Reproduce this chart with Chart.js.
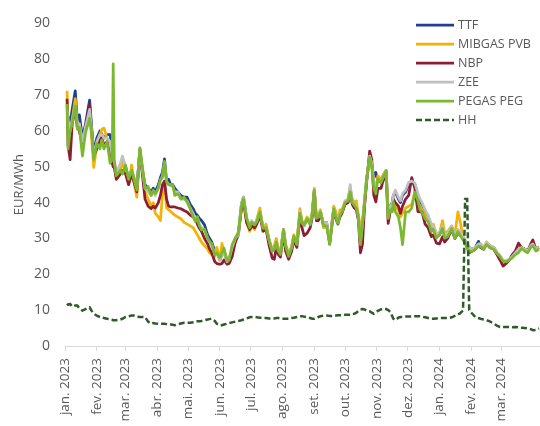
<!DOCTYPE html>
<html>
<head>
<meta charset="utf-8">
<script src="https://cdn.jsdelivr.net/npm/chart.js@4/dist/chart.umd.min.js"></script>
<style>
  html, body { margin: 0; padding: 0; background: #ffffff; }
  #c { display: block; }
</style>
</head>
<body>
<canvas id="c" width="540" height="426"></canvas>
<script>
// Daily gas hub prices (EUR/MWh), sampled on trading days.
// Day offsets are counted from 1 January 2023.
const dayOffsets = [
  2,3,5,7,10,12,14,17,20,24,
  26,28,31,34,36,38,41,44,46,47,
  48,50,54,56,59,62,65,67,70,73,
  75,78,81,84,86,88,91,93,95,97,
  99,101,103,105,107,110,113,116,119,122,
  125,127,129,131,133,136,139,141,143,146,
  148,151,153,155,158,160,163,166,169,172,
  174,177,180,182,185,187,190,193,196,199,
  202,204,206,208,210,213,215,218,221,223,
  226,229,231,233,236,239,241,243,245,247,
  249,252,255,258,262,264,266,268,270,273,
  276,278,280,282,284,286,288,290,292,294,
  297,299,301,303,305,308,310,313,315,317,
  319,320,322,325,327,329,332,335,338,341,
  344,346,348,351,354,357,359,362,365,368,
  370,373,377,380,383,385,388,390,392,394,
  397,400,403,405,408,411,414,418,421,424,
  427,430,433,436,439,442,445,448,451,454,
  456,459,462
];

const ttf = [
  65,64,62,66,71.2,63,64.5,58,62,68.6,
  61,54,58,60,59,58,59,59,54,52,
  51,48,50,52,50,47,49,47,44,55,
  50,45,44,43,44,43,45,47,48.5,52.2,
  46,46.5,45,45,44,43,42,41.5,41.5,39.5,
  38.3,37,36.5,35.6,35,33.8,31,30,29,26.5,
  26,24,25.5,26,24,24,27,30,31.5,39.5,
  41.5,35.5,33,34.5,34,35,37.5,33,33,29.5,
  26.5,27,29,26.5,26,32.5,28,25.5,27.5,30.5,
  28.5,37.5,34.5,33.5,35.5,34,37,43.5,35.5,36,
  37.5,34,34,29,38.5,36,34.5,37,37.5,40,
  40.5,44,40,39.5,39,36,29,34,40,46.5,
  53,51,47,48.4,46,46,47.5,49,37,39,
  40,42,43,41,40,42,43,45,46,45,
  42,40.5,39.5,37.5,36,33.5,33,31,31,33,
  31,31.5,33,30.5,32,31.5,30,29,28,27.5,
  27,27.5,29.2,28,27.5,28.5,28,27.5,26,25,
  23.5,23.5,24,25,26,27,27.5,27,26.5,28,
  28.5,27,27.5
];

const mibgasPvb = [
  71.2,62,60,63,69,62,62,55,61,65,
  58,49.8,56,59,60.5,60.8,58,55,53,52,
  50,47,49,51,49,45,50.5,46,41.5,54,
  50.5,43,41,39,40,37,36,35,42,46,
  38.5,38,37.5,37,36.5,36,35.5,34.5,34,33.5,
  33,32,31,30,29,28,27,26,25.5,25,
  27.5,24,28.6,26,23.5,25,26,29,32,38,
  40,34.5,32,33.5,32.5,35.5,38.5,32.5,34,29.5,
  27,28,30,27,26,32.5,28.5,25.5,28,31,
  29,38.3,35,34,36,34.5,37.5,44,35.5,36.5,
  38,33,33.5,29,39,37.5,35,38,38,40.5,
  41,44,41,40,40.5,36.5,33,34.5,41,46.5,
  53,51,45,44,47.5,46.5,47.5,49,37,39,
  39,40.5,39,38,36,37,38.5,39,39.5,43,
  40,39,38,36.5,35,33,34,31,31.5,35,
  31.5,32,33.5,31,37.4,35,30.5,29.5,28,27,
  27,27.5,28,28.5,27.5,29,28,27.5,26,25,
  23.5,23.5,24,25,26,27,27.5,27,26.5,28,
  28.5,27,27.5
];

const nbp = [
  69,56,52,62,66,61,60,56,61,67.2,
  60,53,55,58,58,56,57,53,51,50,
  50,46.5,48,49,48,45,48,46,43,54.5,
  49,41,39,38.3,39,38.5,40,42,45,46,
  41,39,38.8,38.8,38.8,38.5,38.3,37.8,37.4,36.5,
  36,35.6,34,32.8,32,30,28.5,27,26,23.5,
  23,22.8,23,24,22.8,23,25,29,31,38.5,
  40.5,34.5,32.5,33.5,33,34,36.5,32,32.5,28,
  24.5,24.2,27.5,25.5,24.8,31.5,26.5,24.2,26.5,29.5,
  27.5,36.5,33,30.8,31.5,33,36,43,35,35,
  37,34,34.5,28.5,38,35.5,34,36,37,39.5,
  40,43.5,39.5,38.5,38,35,26,28.5,39,45.5,
  54.4,52,42,40.2,44,44,46,48,34.2,37.5,
  38.5,41,40,39,37,39,41,42,47,44,
  37.5,37.4,37.4,34,33,30.5,31,28.7,28.5,30.5,
  29,30,32.5,30,31.5,31,30,29,27.5,26,
  26.5,27,28,27.5,27,28.5,27.5,27,25.5,24,
  22.3,23,24,25.5,26.5,28.7,27.5,27,26.5,28.5,
  29.6,27,27.5
];

const zee = [
  66,63,60,63,67,62,62,57,61,66,
  60,53,57,59,59,58,58,57,53,52,
  51.5,48,51,53,50,47,49,47,44,55,
  50,44,43,42,43,42,44,46,47.5,51,
  46,45,45,44.5,43,43,41,41,40.5,38.5,
  37,35,36,34,33,32.5,30,29,28.5,25.5,
  26,24.2,25.5,26,23.5,24.5,27.5,30,31,40,
  41.6,36,33.5,35,34,35,37.5,33,33,29.5,
  26.5,27,29,26.5,26,32.5,28,25.5,27.5,30.5,
  28.5,37.5,34.5,33.5,35.5,34,37,43.5,36,36,
  37.5,34,34.5,29,38.5,36.5,34.5,37,37.5,40.5,
  41,45,40.5,39.5,39,36,29,34,40.5,46.5,
  53,51,46,45,46,46,47,49,36.5,38.5,
  40,42,43.5,41.5,40.5,42.5,43.5,45.7,46,45.5,
  42.5,41,40,38,36.5,34,33.5,31.5,31.5,33.5,
  31,31.5,33.5,31,32.5,32,30.5,29.5,28.5,27.5,
  27,27.5,28.5,28.5,27.5,29,28,27.5,26.2,25.2,
  23.8,23.8,24.2,25,26,27,27.5,27,26.5,28,
  28.5,27,27.5
];

const pegasPeg = [
  67.5,55,60,62,67,60.5,61,53,59.5,63.5,
  59.5,52,56.5,55,57.5,55,57,51,52,78.7,
  52,47.5,49,48,50.5,46.5,49,47,43.5,55.3,
  51,44,44.5,42,43.5,42.5,44,46.5,47,51.5,
  45.7,45,44.8,45,42,42.5,41,41.5,40.2,38.3,
  36,34.7,36,33.5,32.4,32.5,30,29.2,28.3,25.5,
  26,24.6,26,27.3,23.7,24,28.3,30.1,31.5,39.3,
  41.1,35.6,33,34.5,33.8,34.7,37.4,32.8,33,29.5,
  26.5,27,29,26.5,25.5,32.4,28,25,27.5,30.6,
  28.3,37,34.5,33.8,35.5,33.8,37,43.4,35.6,36,
  37.4,33.5,33.5,28.3,38.3,36,34.2,36.5,37.4,40,
  40.5,43,40,39.3,38.5,36,28.3,34,40.5,46.6,
  52.6,50,44,42.5,46.6,45.5,47,48.9,35.6,38,
  37.5,40.2,37.5,36,33,28.3,37.4,37.4,38.5,42.9,
  40.5,38,37.4,35.5,34.7,31.9,32.5,30.1,31,32.8,
  30.1,30.5,32.8,30,31.9,31,29.5,28.7,27.5,26.4,
  26.4,27,27.8,27.8,27,28.3,27.5,27,25.8,25,
  23.7,23.5,24,24.6,25.5,26,27.2,26.5,26,27.5,
  28,26.5,27
];

const henryHub = [
  11.8,11.5,11.7,11,11.3,11.3,10.5,9.9,10.3,10.8,
  9.8,9,8.5,8.1,8,7.8,7.6,7.4,7.3,7.2,
  7.2,7.2,7.4,7.6,8.1,8.3,8.5,8.5,8.2,8.1,
  8.1,8.1,6.8,6.2,6.4,6.3,6.2,6.2,6.2,6.2,
  6.1,6,6,5.9,5.8,6.1,6.3,6.5,6.5,6.5,
  6.6,6.8,6.9,6.9,7,7.2,7.4,7.5,7.6,7,
  6.2,5.8,5.8,6,6.2,6.4,6.6,6.8,7,7.2,
  7.4,7.7,8,8.1,8.1,8,7.9,7.8,7.8,7.7,
  7.7,7.7,7.8,7.8,7.7,7.6,7.6,7.6,7.8,7.9,
  8.1,8.3,8.3,8.2,8,7.8,7.6,7.6,7.8,8.1,
  8.3,8.5,8.5,8.4,8.4,8.5,8.6,8.6,8.6,8.7,
  8.7,8.7,8.8,9,9.3,9.8,10.2,10.3,10.2,9.9,
  9.7,9.3,9,9.3,9.8,10.2,10.4,10.3,10,9.5,
  8.3,7.6,7.2,7.9,8.1,8.1,8.2,8.2,8.2,8.3,
  8.3,8.3,8.2,8,7.8,7.6,7.6,7.7,7.8,7.8,
  7.8,7.8,8,8.4,8.8,9.1,9.9,41,41,10,
  9,8.1,7.8,7.6,7.4,7.2,6.9,6.2,5.7,5.3,
  5.3,5.3,5.3,5.2,5.3,5.2,5.1,5,4.9,4.7,
  4.4,4.5,4.9
];

// First day of each month on the axis, with its label
const monthStarts = [0, 31, 59, 90, 120, 151, 181, 212, 243, 273, 304, 334, 365, 396, 425];
const monthLabels = [
  'jan. 2023', 'fev. 2023', 'mar. 2023', 'abr. 2023', 'mai. 2023', 'jun. 2023',
  'jul. 2023', 'ago. 2023', 'set. 2023', 'out. 2023', 'nov. 2023', 'dez. 2023',
  'jan. 2024', 'fev. 2024', 'mar. 2024'
];
const yTickStep = 10;
const yMax = 90;
const lastDay = 463;

const TEXT = '#595959';
Chart.defaults.font.family = '"Open Sans", "Noto Sans", sans-serif';

function series(label, values, color, order, extra) {
  return Object.assign({
    label: label,
    data: values.map((v, i) => ({ x: dayOffsets[i], y: v })),
    borderColor: color,
    backgroundColor: color,
    borderWidth: 2.75,
    pointRadius: 0,
    tension: 0,
    borderJoinStyle: 'round',
    fill: false,
    order: order
  }, extra || {});
}

const datasets = [
  series('TTF', ttf, '#213f8f', 6),
  series('MIBGAS PVB', mibgasPvb, '#f2b305', 5),
  series('NBP', nbp, '#8d1c34', 4),
  series('ZEE', zee, '#c0c0c0', 3),
  series('PEGAS PEG', pegasPeg, '#7cb82f', 2),
  series('HH', henryHub, '#2e5b28', 1, { borderDash: [6, 3], borderWidth: 2.5, borderJoinStyle: 'miter' })
];

// Legend drawn inside the plot, top right
const insideLegend = {
  id: 'insideLegend',
  afterDraw(chart) {
    const ctx = chart.ctx;
    const area = chart.chartArea;
    const x0 = area.right - 124;
    const lineLen = 38;
    ctx.save();
    chart.data.datasets.forEach((ds, i) => {
      const y = 25 + i * 19;
      ctx.beginPath();
      ctx.setLineDash(ds.borderDash || []);
      ctx.lineWidth = ds.borderWidth;
      ctx.strokeStyle = ds.borderColor;
      ctx.moveTo(x0, y);
      ctx.lineTo(x0 + lineLen, y);
      ctx.stroke();
      ctx.setLineDash([]);
      ctx.fillStyle = TEXT;
      ctx.font = '12.5px "Open Sans", sans-serif';
      ctx.textBaseline = 'middle';
      ctx.textAlign = 'left';
      ctx.fillText(ds.label, x0 + lineLen + 4, y);
    });
    ctx.restore();
  }
};

new Chart(document.getElementById('c'), {
  type: 'line',
  data: { datasets: datasets },
  plugins: [insideLegend],
  options: {
    responsive: false,
    animation: false,
    events: [],
    layout: { padding: { top: 19, right: 0, bottom: 0, left: 0 } },
    plugins: {
      legend: { display: false },
      tooltip: { enabled: false }
    },
    scales: {
      x: {
        type: 'linear',
        min: 0,
        max: lastDay,
        afterBuildTicks: (scale) => {
          scale.ticks = monthStarts.map(v => ({ value: v }));
        },
        afterFit: (scale) => { scale.height = 80; },
        ticks: {
          autoSkip: false,
          minRotation: 90,
          maxRotation: 90,
          padding: 7,
          color: TEXT,
          font: { size: 13.5 },
          callback: (value) => monthLabels[monthStarts.indexOf(value)]
        },
        grid: {
          display: true,
          drawOnChartArea: false,
          drawTicks: true,
          tickLength: 5,
          color: '#d9d9d9'
        },
        border: { display: true, color: '#d9d9d9', width: 1 }
      },
      y: {
        min: 0,
        max: yMax,
        afterFit: (scale) => { scale.width = 65; },
        ticks: {
          stepSize: yTickStep,
          padding: 15,
          color: TEXT,
          font: { size: 14 }
        },
        grid: { display: false, drawTicks: false },
        border: { display: false },
        title: {
          display: true,
          text: 'EUR/MWh',
          color: TEXT,
          font: { size: 13 },
          padding: { top: 11, bottom: 0 }
        }
      }
    }
  }
});
</script>
</body>
</html>
